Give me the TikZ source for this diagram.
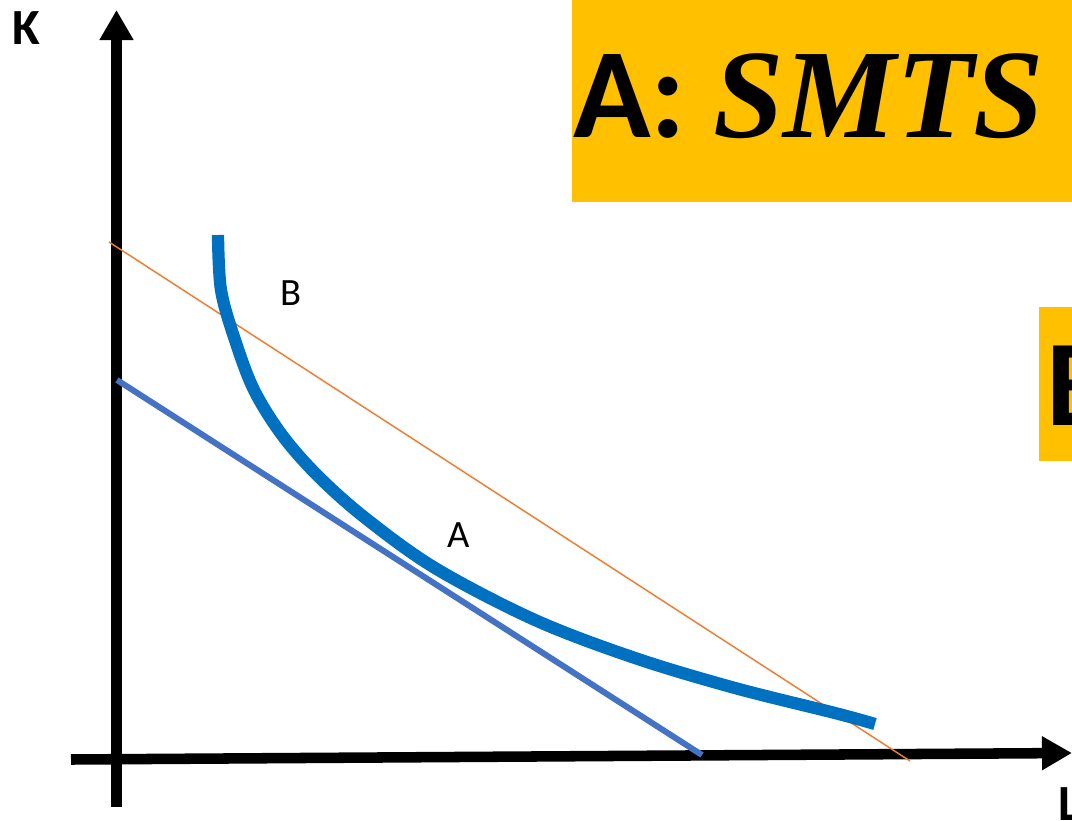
\documentclass[tikz,border=0pt]{standalone}
\usepackage{fontspec}
\setmainfont{Carlito}
\newfontfamily\smtsfont{Liberation Serif}
\usetikzlibrary{arrows.meta}
\definecolor{boxyellow}{HTML}{FFC000}
\definecolor{curveblue}{HTML}{0070C0}
\definecolor{lineblue}{HTML}{4472C4}
\definecolor{lineorange}{HTML}{ED7D31}
\tikzset{
  axisline/.style={line width=7.9pt, black, -{Triangle[length=22.5pt,width=24pt]}},
  axislbl/.style={font=\fontsize{38}{40}\selectfont\bfseries, inner sep=0pt, anchor=base west},
  ptlbl/.style={font=\fontsize{29}{32}\selectfont, inner sep=0pt, anchor=base west},
  bigbox/.style={fill=boxyellow, draw=none},
  bigtxt/.style={font=\fontsize{96}{100}\selectfont\bfseries, inner sep=0pt, anchor=base west},
}
\begin{document}
\begin{tikzpicture}[x=0.75pt, y=-0.75pt]
\useasboundingbox (0,0) rectangle (1072,821);
\begin{scope}
\clip (0,0) rectangle (1072,821);
% boxes
\fill[bigbox] (572,0) rectangle (1072,202);
\node[bigtxt] (boxa) at (573,137) {A:};
\node[bigtxt, font=\fontsize{95}{100}\selectfont\smtsfont\bfseries\itshape] (smts) at (713,137) {SMTS};
\fill[bigbox] (1039,307) rectangle (1072,461);
\node[bigtxt, font=\fontsize{92}{100}\selectfont\bfseries] (boxb) at (1046,425) {B};
% axes
\coordinate (ybot) at (116.5,807);
\coordinate (ytop) at (116.5,10);
\coordinate (xleft) at (71,759.5);
\coordinate (xright) at (1072,753);
\draw[axisline] (ybot) -- (ytop);
\draw[axisline] (xleft) -- (xright);
\node[axislbl] (klbl) at (12,45) {K};
\node[axislbl] (llbl) at (1058,820) {L};
% budget lines
\coordinate (o1) at (109,242);
\coordinate (o2) at (910,761);
\draw[lineorange, line width=1.1pt] (o1) -- (o2);
\coordinate (b1) at (117,380);
\coordinate (b2) at (702,755);
\draw[lineblue, line width=4.5pt] (b1) -- (b2);
% isoquant
\draw[curveblue, line width=9.2pt] plot[smooth, tension=0.55] coordinates {
 (218,235) (221,290) (235,340) (254,390) (282,435) (317,475) (364,517)
 (435,568) (535,620) (635,658) (735,688) (835,713) (875,724)};
% labels
\node[ptlbl] (lblb) at (280,305) {B};
\node[ptlbl] (lbla) at (447,547) {A};
\end{scope}
\end{tikzpicture}
\end{document}
